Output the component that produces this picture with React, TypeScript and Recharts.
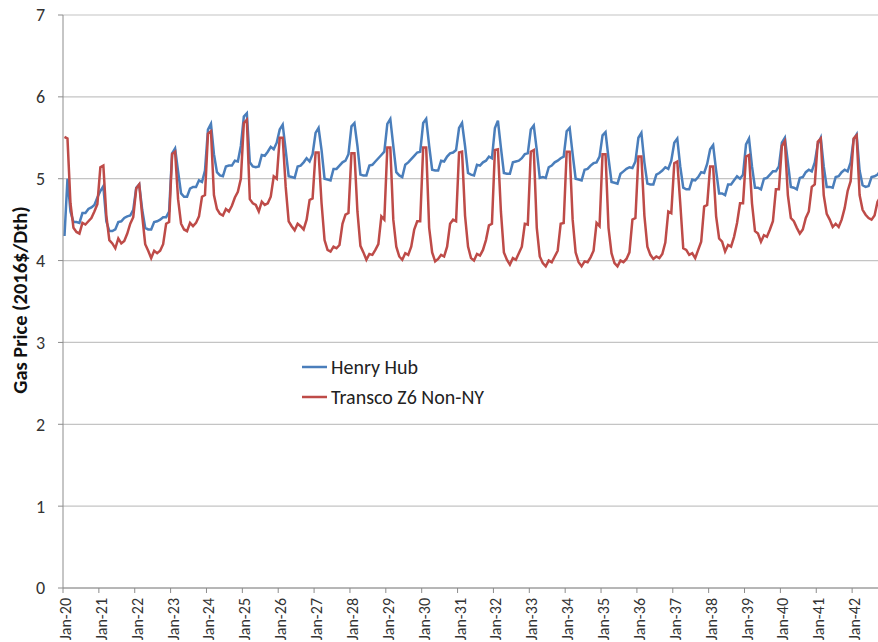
import React from "react";
import { LineChart, Line, XAxis, YAxis, CartesianGrid, Legend } from "recharts";

// monthly prices, one row per year (Jan..Dec), 2016$/Dth
const henryHub: number[] = [
  4.3, 5.0, 4.6, 4.47, 4.47, 4.46, 4.58, 4.58, 4.63, 4.65, 4.68, 4.77, // 2020
  4.85, 4.91, 4.48, 4.36, 4.36, 4.38, 4.47, 4.48, 4.52, 4.54, 4.55, 4.62, // 2021
  4.89, 4.93, 4.62, 4.4, 4.38, 4.38, 4.47, 4.48, 4.5, 4.53, 4.53, 4.6, // 2022
  5.31, 5.37, 5.09, 4.82, 4.78, 4.78, 4.88, 4.9, 4.9, 4.98, 4.96, 5.1, // 2023
  5.6, 5.67, 5.3, 5.08, 5.04, 5.03, 5.15, 5.16, 5.16, 5.22, 5.21, 5.4, // 2024
  5.76, 5.8, 5.2, 5.15, 5.14, 5.15, 5.29, 5.28, 5.33, 5.39, 5.36, 5.44, // 2025
  5.6, 5.66, 5.35, 5.03, 5.02, 5.01, 5.15, 5.16, 5.2, 5.25, 5.21, 5.3, // 2026
  5.56, 5.62, 5.35, 5.0, 4.99, 4.98, 5.12, 5.12, 5.16, 5.2, 5.22, 5.3, // 2027
  5.64, 5.68, 5.4, 5.05, 5.04, 5.04, 5.16, 5.17, 5.21, 5.25, 5.29, 5.33, // 2028
  5.67, 5.73, 5.4, 5.08, 5.04, 5.02, 5.17, 5.2, 5.24, 5.28, 5.32, 5.33, // 2029
  5.68, 5.73, 5.4, 5.11, 5.1, 5.1, 5.22, 5.21, 5.27, 5.31, 5.32, 5.35, // 2030
  5.62, 5.68, 5.4, 5.07, 5.05, 5.04, 5.17, 5.16, 5.2, 5.22, 5.27, 5.25, // 2031
  5.62, 5.71, 5.38, 5.07, 5.06, 5.06, 5.2, 5.21, 5.22, 5.25, 5.3, 5.31, // 2032
  5.6, 5.65, 5.35, 5.01, 5.02, 5.01, 5.14, 5.16, 5.2, 5.22, 5.25, 5.27, // 2033
  5.58, 5.62, 5.3, 5.0, 4.99, 4.98, 5.11, 5.12, 5.16, 5.19, 5.2, 5.27, // 2034
  5.53, 5.57, 5.25, 4.96, 4.95, 4.94, 5.06, 5.09, 5.12, 5.14, 5.13, 5.21, // 2035
  5.5, 5.56, 5.2, 4.94, 4.93, 4.93, 5.05, 5.07, 5.1, 5.14, 5.12, 5.22, // 2036
  5.44, 5.49, 5.15, 4.89, 4.87, 4.87, 4.99, 4.98, 5.02, 5.08, 5.07, 5.18, // 2037
  5.36, 5.41, 5.1, 4.82, 4.82, 4.8, 4.93, 4.93, 4.98, 5.03, 5.0, 5.05, // 2038
  5.42, 5.49, 5.15, 4.89, 4.89, 4.87, 5.0, 5.01, 5.05, 5.09, 5.09, 5.15, // 2039
  5.44, 5.5, 5.2, 4.9, 4.89, 4.87, 5.01, 5.02, 5.08, 5.11, 5.09, 5.2, // 2040
  5.42, 5.5, 5.15, 4.9, 4.9, 4.89, 5.02, 5.03, 5.08, 5.11, 5.09, 5.2, // 2041
  5.48, 5.54, 5.1, 4.92, 4.9, 4.91, 5.02, 5.03, 5.05, 5.1, 5.12, 5.2, // 2042
];

const transcoZ6: number[] = [
  5.51, 5.49, 4.7, 4.4, 4.35, 4.33, 4.46, 4.44, 4.48, 4.52, 4.6, 4.69, // 2020
  5.14, 5.16, 4.55, 4.25, 4.21, 4.15, 4.27, 4.21, 4.24, 4.33, 4.45, 4.53, // 2021
  4.88, 4.93, 4.55, 4.2, 4.12, 4.03, 4.12, 4.09, 4.12, 4.2, 4.45, 4.47, // 2022
  5.3, 5.33, 4.75, 4.45, 4.38, 4.36, 4.46, 4.42, 4.46, 4.54, 4.78, 4.8, // 2023
  5.55, 5.58, 4.8, 4.63, 4.57, 4.55, 4.63, 4.6, 4.67, 4.77, 4.84, 5.0, // 2024
  5.68, 5.72, 4.75, 4.7, 4.68, 4.6, 4.72, 4.68, 4.7, 4.78, 5.03, 5.0, // 2025
  5.5, 5.5, 4.9, 4.48, 4.42, 4.37, 4.45, 4.42, 4.38, 4.5, 4.74, 4.76, // 2026
  5.32, 5.32, 4.7, 4.25, 4.13, 4.11, 4.17, 4.15, 4.19, 4.45, 4.56, 4.58, // 2027
  5.31, 5.31, 4.6, 4.18, 4.1, 4.01, 4.08, 4.07, 4.13, 4.2, 4.54, 4.5, // 2028
  5.38, 5.38, 4.5, 4.17, 4.05, 4.01, 4.09, 4.07, 4.17, 4.38, 4.48, 4.48, // 2029
  5.38, 5.38, 4.4, 4.1, 3.99, 4.02, 4.07, 4.05, 4.17, 4.45, 4.5, 4.48, // 2030
  5.32, 5.33, 4.55, 4.17, 4.03, 4.0, 4.08, 4.06, 4.13, 4.25, 4.43, 4.45, // 2031
  5.35, 5.36, 4.6, 4.1, 4.01, 3.95, 4.03, 4.01, 4.09, 4.17, 4.45, 4.44, // 2032
  5.33, 5.35, 4.4, 4.05, 3.97, 3.93, 4.0, 3.98, 4.05, 4.12, 4.45, 4.46, // 2033
  5.33, 5.33, 4.5, 4.1, 3.98, 3.93, 3.99, 3.98, 4.04, 4.12, 4.46, 4.42, // 2034
  5.3, 5.3, 4.4, 4.09, 3.97, 3.93, 4.0, 3.98, 4.02, 4.1, 4.5, 4.52, // 2035
  5.27, 5.27, 4.55, 4.17, 4.07, 4.02, 4.05, 4.03, 4.08, 4.22, 4.6, 4.58, // 2036
  5.19, 5.21, 4.7, 4.15, 4.13, 4.07, 4.09, 4.03, 4.13, 4.23, 4.66, 4.68, // 2037
  5.15, 5.15, 4.54, 4.27, 4.23, 4.11, 4.19, 4.17, 4.29, 4.46, 4.7, 4.7, // 2038
  5.27, 5.29, 4.7, 4.36, 4.33, 4.23, 4.31, 4.29, 4.38, 4.48, 4.87, 4.87, // 2039
  5.4, 5.46, 4.8, 4.52, 4.48, 4.4, 4.33, 4.38, 4.52, 4.6, 4.9, 4.93, // 2040
  5.45, 5.49, 4.8, 4.57, 4.5, 4.41, 4.45, 4.41, 4.5, 4.64, 4.85, 4.97, // 2041
  5.49, 5.53, 4.8, 4.62, 4.56, 4.52, 4.5, 4.55, 4.72, 4.78, 5.0, 5.02, // 2042
];

const yearLabels = [
  "Jan-20", "Jan-21", "Jan-22", "Jan-23", "Jan-24", "Jan-25", "Jan-26", "Jan-27",
  "Jan-28", "Jan-29", "Jan-30", "Jan-31", "Jan-32", "Jan-33", "Jan-34", "Jan-35",
  "Jan-36", "Jan-37", "Jan-38", "Jan-39", "Jan-40", "Jan-41", "Jan-42",
];

const yTicks = [0, 1, 2, 3, 4, 5, 6, 7];

const BLUE = "#4a7ebb";
const RED = "#be4b48";
const FONT = "Carlito, Calibri, Lato, sans-serif";

// point for month i sits in the middle of its month slot
const data = henryHub.map((v, i) => ({
  x: i + 0.5,
  henryHub: v,
  transco: transcoZ6[i],
}));

const xTicks = yearLabels.map((_, i) => i * 12);

function MonthTick(props: any) {
  const { x, y, payload } = props;
  const label = yearLabels[Math.round(payload.value / 12)];
  return (
    <g transform={`translate(${x},${y})`}>
      <text
        x={-3}
        y={0}
        dy={8}
        transform="rotate(-90)"
        textAnchor="end"
        fill="#333"
        fontSize={16}
        fontFamily={FONT}
      >
        {label}
      </text>
    </g>
  );
}

function LegendBox(props: any) {
  const items = props.payload || [];
  return (
    <div style={{ fontFamily: FONT, fontSize: 20, color: "#222" }}>
      {items.map((it: any) => (
        <div key={it.value} style={{ display: "flex", alignItems: "center", height: 30 }}>
          <svg width={27} height={6} style={{ display: "block" }}>
            <line x1={1} y1={3} x2={26} y2={3} stroke={it.color} strokeWidth={2.5} />
          </svg>
          <span style={{ marginLeft: 3, whiteSpace: "nowrap" }}>{it.value}</span>
        </div>
      ))}
    </div>
  );
}

export default function App() {
  return (
    <div
      style={{
        position: "fixed",
        left: 0,
        top: 0,
        width: 878,
        height: 642,
        overflow: "hidden",
        background: "#fff",
      }}
    >
      <LineChart
        width={900}
        height={642}
        data={data}
        margin={{ top: 15, right: 12, bottom: 0, left: 0 }}
      >
        <CartesianGrid vertical={false} stroke="#c4c4c4" strokeWidth={1.2} />
        <XAxis
          type="number"
          dataKey="x"
          domain={[0, 276]}
          ticks={xTicks}
          interval={0}
          height={54}
          tick={<MonthTick />}
          tickSize={5}
          tickMargin={2}
          stroke="#8c8c8c"
          allowDecimals={false}
        />
        <YAxis
          domain={[0, 7]}
          ticks={yTicks}
          width={63}
          tickSize={5}
          tickMargin={13}
          stroke="#8c8c8c"
          tick={{ fill: "#333", fontSize: 18, fontFamily: FONT }}
          label={{
            content: () => (
              <text
                x={27}
                y={300}
                transform="rotate(-90, 27, 300)"
                textAnchor="middle"
                fontFamily={FONT}
                fontWeight="bold"
                fontSize={20.5}
                fill="#111"
              >
                Gas Price (2016$/Dth)
              </text>
            ),
          }}
        />
        <Legend
          layout="vertical"
          align="center"
          verticalAlign="middle"
          content={<LegendBox />}
          wrapperStyle={{ left: 301, top: 352, width: 280 }}
        />
        <Line
          type="linear"
          dataKey="henryHub"
          name="Henry Hub"
          stroke={BLUE}
          strokeWidth={2.5}
          dot={false}
          isAnimationActive={false}
        />
        <Line
          type="linear"
          dataKey="transco"
          name="Transco Z6 Non-NY"
          stroke={RED}
          strokeWidth={2.5}
          dot={false}
          isAnimationActive={false}
        />
      </LineChart>
    </div>
  );
}
